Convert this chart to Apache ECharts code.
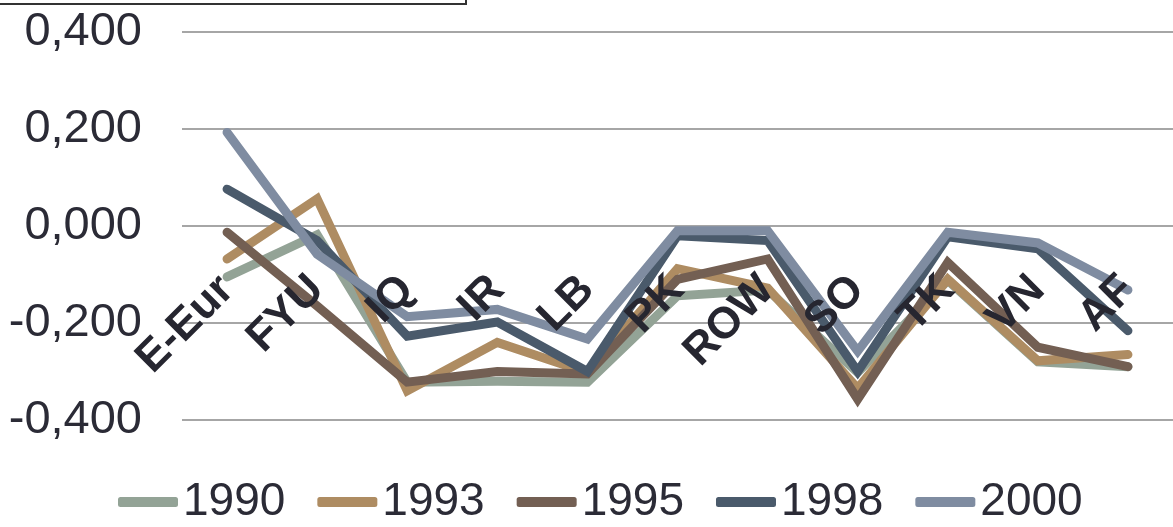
<!DOCTYPE html>
<html>
<head>
<meta charset="utf-8">
<script src="https://cdn.jsdelivr.net/npm/echarts@6/dist/echarts.min.js"></script>
<style>
  html, body { margin: 0; padding: 0; background: #ffffff; }
  #chart { width: 1173px; height: 527px; }
</style>
</head>
<body>
<div id="chart"></div>
<script>
// Regions along the category axis
const categories = ['E-Eur', 'FYU', 'IQ', 'IR', 'LB', 'PK', 'ROW', 'SO', 'TK', 'VN', 'AF'];

// Values per year
const years = ['1990', '1993', '1995', '1998', '2000'];
const v1990 = [-0.105, -0.018, -0.322, -0.320, -0.322, -0.144, -0.132, -0.302, -0.112, -0.280, -0.290];
const v1993 = [-0.068, 0.056, -0.340, -0.240, -0.302, -0.088, -0.128, -0.335, -0.110, -0.278, -0.265];
const v1995 = [-0.013, -0.165, -0.322, -0.300, -0.305, -0.110, -0.068, -0.357, -0.075, -0.250, -0.290];
const v1998 = [0.076, -0.030, -0.227, -0.198, -0.300, -0.020, -0.030, -0.300, -0.022, -0.047, -0.216];
const v2000 = [0.193, -0.058, -0.187, -0.172, -0.233, -0.010, -0.010, -0.258, -0.013, -0.035, -0.132];

// Y axis ticks
const yMin = -0.4, yMax = 0.4, yStep = 0.2;

const colors = ['#93a396', '#ae8c62', '#735f53', '#4a5a6b', '#7f8ca1'];
const seriesValues = [v1990, v1993, v1995, v1998, v2000];

const gridTop = 32, gridBottom = 107, height = 527;
// shift the category labels up so they sit on the zero line
const plotH = height - gridTop - gridBottom;
const zeroOffset = -plotH * (0 - yMin) / (yMax - yMin);

const chart = echarts.init(document.getElementById('chart'), null, { renderer: 'canvas' });

const option = {
  animation: false,
  color: colors,
  grid: { left: 182, right: 0, top: gridTop, bottom: gridBottom, containLabel: false, outerBoundsMode: 'none' },
  legend: {
    left: 113,
    top: 474,
    icon: 'roundRect',
    itemWidth: 60,
    itemHeight: 10,
    itemGap: 32,
    textStyle: { fontFamily: 'Liberation Sans, Arial, sans-serif', fontSize: 46, color: '#2b2b36' },
    data: years
  },
  xAxis: {
    type: 'category',
    data: categories,
    boundaryGap: true,
    position: 'bottom',
    offset: zeroOffset,
    z: 10,
    axisLine: { show: false, onZero: false },
    axisTick: { show: false },
    axisLabel: {
      interval: 0,
      rotate: 45,
      margin: 57,
      hideOverlap: false,
      fontFamily: 'Liberation Sans, Arial, sans-serif',
      fontWeight: 'bold',
      fontSize: 44,
      color: '#262630'
    }
  },
  yAxis: {
    type: 'value',
    min: yMin,
    max: yMax,
    interval: yStep,
    axisLine: { show: false },
    axisTick: { show: false },
    splitLine: { lineStyle: { color: '#a6a6a6', width: 2 } },
    axisLabel: {
      margin: 40,
      fontFamily: 'Liberation Sans, Arial, sans-serif',
      fontSize: 47,
      color: '#2b2b36',
      formatter: v => v.toFixed(3).replace('.', ',')
    }
  },
  graphic: [{
    type: 'rect',
    left: -4,
    top: -20,
    shape: { width: 469, height: 23 },
    style: { fill: '#ffffff', stroke: '#333333', lineWidth: 2 },
    z: 20
  }],
  series: years.map((y, i) => ({
    name: y,
    type: 'line',
    data: seriesValues[i],
    showSymbol: false,
    symbol: 'none',
    lineStyle: { width: 9, color: colors[i], cap: 'round', join: 'miter' },
    itemStyle: { color: colors[i] }
  }))
};

chart.setOption(option);
</script>
</body>
</html>
